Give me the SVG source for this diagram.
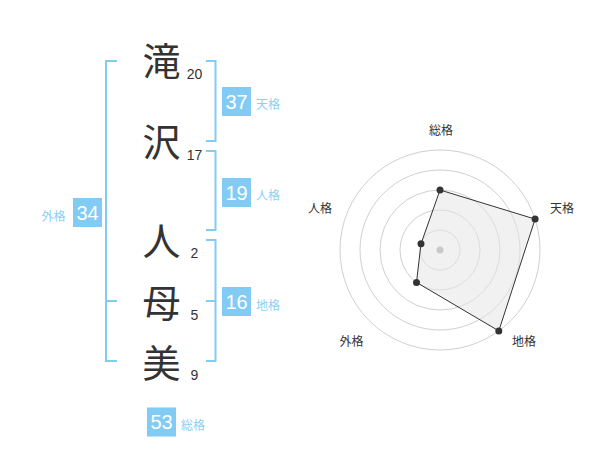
<svg xmlns="http://www.w3.org/2000/svg" width="600" height="470" viewBox="0 0 600 470">
<style>
.kj{font-family:"Noto Sans CJK JP","Noto Sans",sans-serif;font-size:38px;fill:#333;text-anchor:middle}
.num{font-family:"Liberation Sans",Arial,sans-serif;font-size:14px;fill:#333;text-anchor:middle}
.br{fill:none;stroke:#82cbf5;stroke-width:2}
.box{fill:#82cbf5}
.bv{font-family:"Liberation Sans",Arial,sans-serif;font-size:20px;fill:#fff;text-anchor:middle}
.bl{font-family:"Noto Sans CJK JP",sans-serif;font-size:12px;fill:#8ccff5}
.ring{fill:none;stroke:#d0d0d0;stroke-width:1}
.rl{font-family:"Noto Sans CJK JP",sans-serif;font-size:12px;fill:#333}
.dot{fill:#333}
</style>
<rect width="600" height="470" fill="#fff"/>
<g id="chars">
<g id="c1"><text class="kj" x="161.5" y="74.5">滝</text><text class="num" x="194.5" y="79">20</text></g>
<g id="c2"><text class="kj" x="161.5" y="155.5">沢</text><text class="num" x="194.5" y="160">17</text></g>
<g id="c3"><text class="kj" x="161.5" y="254.5">人</text><text class="num" x="194.5" y="258">2</text></g>
<g id="c4"><text class="kj" x="161.5" y="317">母</text><text class="num" x="194.5" y="319.5">5</text></g>
<g id="c5"><text class="kj" x="161.5" y="376.5">美</text><text class="num" x="194.5" y="380">9</text></g>
</g>
<g id="connectors">
<path class="br" d="M117,61 H106 V361 H117 M106,301 H117"/>
<path class="br" d="M206,61 H215.5 V141 H206"/>
<path class="br" d="M206,151 H215.5 V230 H206"/>
<path class="br" d="M206,240 H215.5 V361 H206 M215.5,301 H206"/>
</g>
<g id="tenkaku"><rect class="box" x="222" y="87" width="29" height="29"/><text class="bv" x="236.5" y="108.5">37</text><text class="bl" x="256" y="108.5">天格</text></g>
<g id="jinkaku"><rect class="box" x="222" y="178" width="29" height="29"/><text class="bv" x="236.5" y="199.5">19</text><text class="bl" x="256" y="199.5">人格</text></g>
<g id="chikaku"><rect class="box" x="222" y="287" width="29" height="29"/><text class="bv" x="236.5" y="308.5">16</text><text class="bl" x="256" y="310">地格</text></g>
<g id="gaikaku"><rect class="box" x="73" y="198" width="29" height="29"/><text class="bv" x="87.5" y="219.5">34</text><text class="bl" x="65.5" y="220.5" text-anchor="end">外格</text></g>
<g id="soukaku"><rect class="box" x="147" y="407.5" width="29" height="29"/><text class="bv" x="161.5" y="429">53</text><text class="bl" x="181" y="430">総格</text></g>
<g id="radar">
<circle class="ring" cx="440" cy="250" r="20"/>
<circle class="ring" cx="440" cy="250" r="40"/>
<circle class="ring" cx="440" cy="250" r="60"/>
<circle class="ring" cx="440" cy="250" r="80"/>
<circle class="ring" cx="440" cy="250" r="100"/>
<polygon points="440,190 535.1,219.1 498.8,330.9 416.5,282.4 421,243.8" fill="#e6e6e6" fill-opacity="0.55" stroke="#333" stroke-width="1"/>
<circle cx="440" cy="250" r="3.5" fill="#c8c8c8"/>
<circle class="dot" cx="440" cy="190" r="3.5"/>
<circle class="dot" cx="535.1" cy="219.1" r="3.5"/>
<circle class="dot" cx="498.8" cy="330.9" r="3.5"/>
<circle class="dot" cx="416.5" cy="282.4" r="3.5"/>
<circle class="dot" cx="421" cy="243.8" r="3.5"/>
<text class="rl" x="441" y="134.5" text-anchor="middle">総格</text>
<text class="rl" x="550" y="213">天格</text>
<text class="rl" x="512" y="346">地格</text>
<text class="rl" x="363.5" y="346" text-anchor="end">外格</text>
<text class="rl" x="332" y="213" text-anchor="end">人格</text>
</g>
</svg>
